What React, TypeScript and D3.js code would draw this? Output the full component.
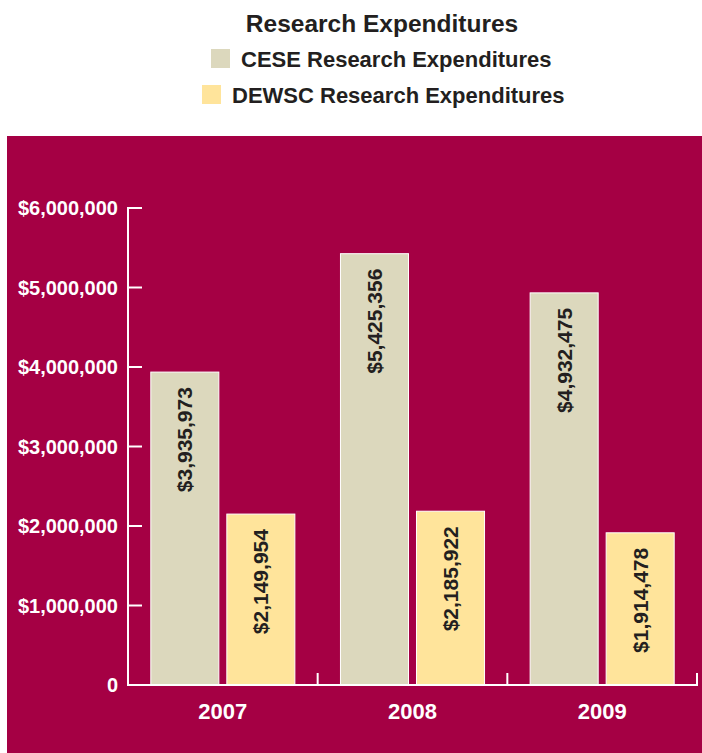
import React from 'react';
import * as d3 from 'd3';

const years = ['2007', '2008', '2009'];
const seriesNames = ['CESE Research Expenditures', 'DEWSC Research Expenditures'];
const ceseValues = [3935973, 5425356, 4932475];
const dewscValues = [2149954, 2185922, 1914478];
const yTicks = [0, 1000000, 2000000, 3000000, 4000000, 5000000, 6000000];

const colors = ['#dcd8bd', '#ffe49b'];
const font = '"Liberation Sans", Arial, Helvetica, sans-serif';

export default function App() {
  const W = 702;
  const H = 753;
  const left = 128;
  const right = 697;
  const bottom = 685;
  const top = 208;

  const x = d3.scaleBand().domain(years).range([left, right]).paddingInner(0).paddingOuter(0);
  const xInner = d3
    .scaleBand()
    .domain(seriesNames)
    .range([0, x.bandwidth()])
    .paddingInner(0.105)
    .paddingOuter(0.3);
  const y = d3.scaleLinear().domain([0, 6000000]).range([bottom, top]);

  const money = (v: number) => (v === 0 ? '0' : '$' + d3.format(',')(v));

  const rows = years.map((yr, i) => ({
    year: yr,
    vals: [ceseValues[i], dewscValues[i]],
  }));

  return (
    <svg
      width={W}
      height={H}
      style={{ position: 'absolute', left: 0, top: 0, fontFamily: font }}
    >
      <rect x={0} y={0} width={W} height={H} fill="#ffffff" />
      {/* title + legend */}
      <text x={382} y={32} textAnchor="middle" fontSize={24.5} fontWeight="bold" fill="#231f20">
        Research Expenditures
      </text>
      {seriesNames.map((name, i) => {
        const sx = i === 0 ? 211 : 202;
        const sy = i === 0 ? 49 : 85;
        return (
          <g key={name}>
            <rect x={sx} y={sy} width={19} height={19} fill={colors[i]} />
            <text x={sx + 30} y={sy + 18} fontSize={22} fontWeight="bold" fill="#231f20">
              {name}
            </text>
          </g>
        );
      })}

      {/* panel */}
      <rect x={7} y={136} width={W - 7} height={H - 136} fill="#a50044" />

      {/* bars */}
      {rows.map((r) => (
        <g key={r.year} transform={`translate(${x(r.year)},0)`}>
          {r.vals.map((v, j) => {
            const bx = xInner(seriesNames[j])!;
            const bw = xInner.bandwidth();
            const by = y(v);
            return (
              <g key={j}>
                <rect
                  x={bx}
                  y={by}
                  width={bw}
                  height={bottom - by}
                  fill={colors[j]}
                  stroke="#ffffff"
                  strokeWidth={1}
                />
                <text
                  transform={`translate(${bx + bw / 2},${by + 15}) rotate(-90)`}
                  textAnchor="end"
                  dy="0.35em"
                  fontSize={21}
                  fontWeight="bold"
                  fill="#231f20"
                >
                  {money(v)}
                </text>
              </g>
            );
          })}
        </g>
      ))}

      {/* y axis */}
      <line x1={left} x2={left} y1={top} y2={bottom} stroke="#fff" strokeWidth={2} />
      {yTicks.map((t) => (
        <g key={t}>
          {t > 0 && (
            <line x1={left - 1} x2={left + 14} y1={y(t)} y2={y(t)} stroke="#fff" strokeWidth={2} />
          )}
          <text
            x={left - 10}
            y={y(t)}
            dy="0.35em"
            textAnchor="end"
            fontSize={20}
            fontWeight="bold"
            fill="#fff"
          >
            {money(t)}
          </text>
        </g>
      ))}

      {/* x axis */}
      <line x1={left - 1} x2={right + 1} y1={bottom} y2={bottom} stroke="#fff" strokeWidth={2} />
      {years.map((yr) => (
        <g key={yr}>
          <line
            x1={x(yr)! + x.bandwidth()}
            x2={x(yr)! + x.bandwidth()}
            y1={bottom}
            y2={bottom - 12}
            stroke="#fff"
            strokeWidth={2}
          />
          <text
            x={x(yr)! + x.bandwidth() / 2}
            y={719}
            textAnchor="middle"
            fontSize={22}
            fontWeight="bold"
            fill="#fff"
          >
            {yr}
          </text>
        </g>
      ))}
    </svg>
  );
}
